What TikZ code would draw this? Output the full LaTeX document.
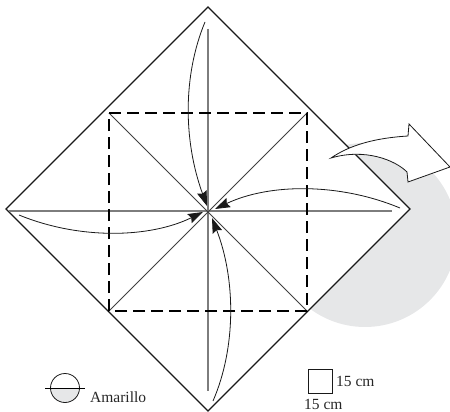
\documentclass[tikz,border=0pt]{standalone}
\usepackage{fontspec}
\setmainfont{Liberation Serif}
\usetikzlibrary{arrows.meta}
\definecolor{softgray}{RGB}{230,231,232}
\definecolor{foldgray}{RGB}{125,125,125}
\tikzset{
  outline/.style={draw=black!90,line width=1.2pt},
  foldline/.style={draw=foldgray,line width=1.1pt},
  diagline/.style={draw=black!75,line width=1pt},
  valley/.style={draw=black,line width=1.9pt,dash pattern=on 12pt off 6pt},
  curvearrow/.style={draw=black!90,line width=.8pt,-{Stealth[length=15pt,width=10pt,inset=2pt]}},
  label/.style={inner sep=0pt,font=\fontsize{15.5pt}{17pt}\selectfont,text=black!85}
}
\begin{document}
\begin{tikzpicture}[x=1pt,y=-1pt]
\useasboundingbox (0,0) rectangle (450,412);
\begin{scope}
\clip (0,0) rectangle (450,412);
\fill[softgray] (365,235) circle (92);
\end{scope}
\coordinate (T) at (208,7);
\coordinate (R) at (410,209);
\coordinate (B) at (208,411);
\coordinate (L) at (6,209);
\coordinate (A) at (109,113);
\coordinate (D) at (307,113);
\coordinate (E) at (307,311);
\coordinate (F) at (109,311);
\filldraw[fill=white,outline] (T) -- (R) -- (B) -- (L) -- cycle;
\draw[foldline] (208,29) -- (208,391);
\draw[foldline] (9,211) -- (392,211);
\draw[diagline] (A) -- (E);
\draw[diagline] (D) -- (F);
\draw[valley] (A) -- (D) -- (E) -- (F) -- cycle;
\draw[curvearrow] (205,22) .. controls (183,75) and (183,140) .. (207,206);
\draw[curvearrow] (400,208) .. controls (340,183) and (270,183) .. (215,209);
\draw[curvearrow] (213,401) .. controls (236,348) and (236,280) .. (212,218);
\draw[curvearrow] (19,215) .. controls (80,240) and (150,238) .. (203,212);
\filldraw[fill=white,draw=black!90,line width=.8pt] (331,158) .. controls (350,145) and (375,138) .. (408,136) -- (409,124) -- (450,167) -- (408,182) -- (407,172) .. controls (395,160) and (365,148) .. (331,158) -- cycle;
\begin{scope}[shift={(65,388)}]
\fill[softgray] (-14.5,0) arc[start angle=180,end angle=0,radius=14.5] -- cycle;
\draw[black!90,line width=.8pt] (0,0) circle (14.5);
\draw[black,line width=.9pt] (-20,0) -- (20,0);
\end{scope}
\node[label,anchor=base west] (amarillo) at (90,402) {Amarillo};
\draw[black!90,line width=.8pt] (308,369) rectangle (332,393);
\node[label,anchor=base west] (w) at (336,386) {15 cm};
\node[label,anchor=base west] (h) at (304,409) {15 cm};
\end{tikzpicture}
\end{document}
